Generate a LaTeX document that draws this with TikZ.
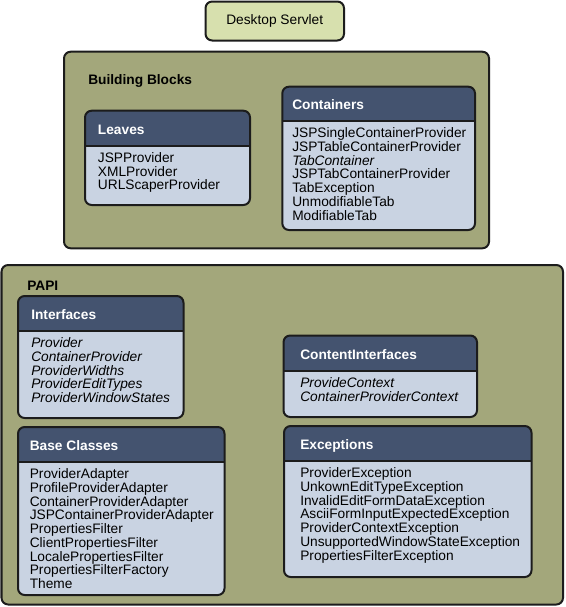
\documentclass[tikz,border=0pt]{standalone}
\usepackage{fontspec}
\setmainfont{Liberation Sans}
\definecolor{oliveC}{HTML}{A3A77B}
\definecolor{headC}{HTML}{44536F}
\definecolor{bodyC}{HTML}{C9D3E2}
\definecolor{deskC}{HTML}{D7E0AE}
\definecolor{borderC}{HTML}{1C1C1C}
\newcommand\fs{\fontsize{10.3}{10.3}\selectfont}
\tikzset{
  frame/.style={draw=borderC, line width=1.5pt, rounded corners=5pt},
  sepline/.style={draw=borderC, line width=1.5pt},
  headtxt/.style={anchor=base west, inner sep=0pt, text=white, font=\fs\bfseries},
  bodytxt/.style={anchor=north west, inner sep=0pt, align=left, font=\fs},
  grouptxt/.style={anchor=base west, inner sep=0pt, font=\fs\bfseries},
}
\newcommand\classbox[9]{%
  \fill[bodyC, rounded corners=5pt] (#2,#3) rectangle (#4,#5);
  \begin{scope}
    \clip[rounded corners=5pt] (#2,#3) rectangle (#4,#5);
    \fill[headC] (#2,#3) rectangle (#4,#6);
  \end{scope}
  \draw[sepline] (#2,#6) -- (#4,#6);
  \draw[frame] (#2,#3) rectangle (#4,#5);
  \node[headtxt] (#1-title) at (#7,{(#3+#6)/2+6}) {#8};
  \node[bodytxt] (#1-body) at (#7,{#6+6.5}) {\rule{0pt}{7.5pt}#9};
}
\begin{document}
\begin{tikzpicture}[x=0.75pt,y=-0.75pt]
\fill[white] (0,0) rectangle (565,607);
\useasboundingbox (0,0) rectangle (565,607);

% Desktop Servlet
\draw[frame, fill=deskC] (205.5,1.5) rectangle (344,40.5);
\node[inner sep=0pt, font=\fs] (desktop) at (274.75,21) {Desktop Servlet};

% Building Blocks
\draw[frame, fill=oliveC] (64,51.7) rectangle (489,248.3);
\node[grouptxt] (bb) at (88,84) {Building Blocks};
\classbox{leaves}{85}{110.7}{250}{205}{145.7}{97.7}{Leaves}{JSPProvider\\XMLProvider\\URLScaperProvider}
\classbox{containers}{282.3}{86.7}{475}{230}{121}{292}{Containers}{JSPSingleContainerProvider\\JSPTableContainerProvider\\{\itshape TabContainer}\\JSPTabContainerProvider\\TabException\\UnmodifiableTab\\ModifiableTab}

% PAPI
\draw[frame, fill=oliveC] (1.5,265) rectangle (563,604.5);
\node[grouptxt] (papi) at (27,290) {PAPI};
\classbox{interfaces}{18}{296}{183.5}{418}{331}{31}{Interfaces}{\itshape Provider\\\itshape ContainerProvider\\\itshape ProviderWidths\\\itshape ProviderEditTypes\\\itshape ProviderWindowStates}
\classbox{contentif}{283.5}{335.5}{477}{417}{371}{300}{ContentInterfaces}{\itshape ProvideContext\\\itshape ContainerProviderContext}
\classbox{base}{18}{427}{224.5}{595}{462}{29.5}{Base Classes}{ProviderAdapter\\ProfileProviderAdapter\\ContainerProviderAdapter\\JSPContainerProviderAdapter\\PropertiesFilter\\ClientPropertiesFilter\\LocalePropertiesFilter\\PropertiesFilterFactory\\Theme}
\classbox{exceptions}{284}{426}{531.5}{577}{461}{300}{Exceptions}{ProviderException\\UnkownEditTypeException\\InvalidEditFormDataException\\AsciiFormInputExpectedException\\ProviderContextException\\UnsupportedWindowStateException\\PropertiesFilterException}
\end{tikzpicture}
\end{document}
